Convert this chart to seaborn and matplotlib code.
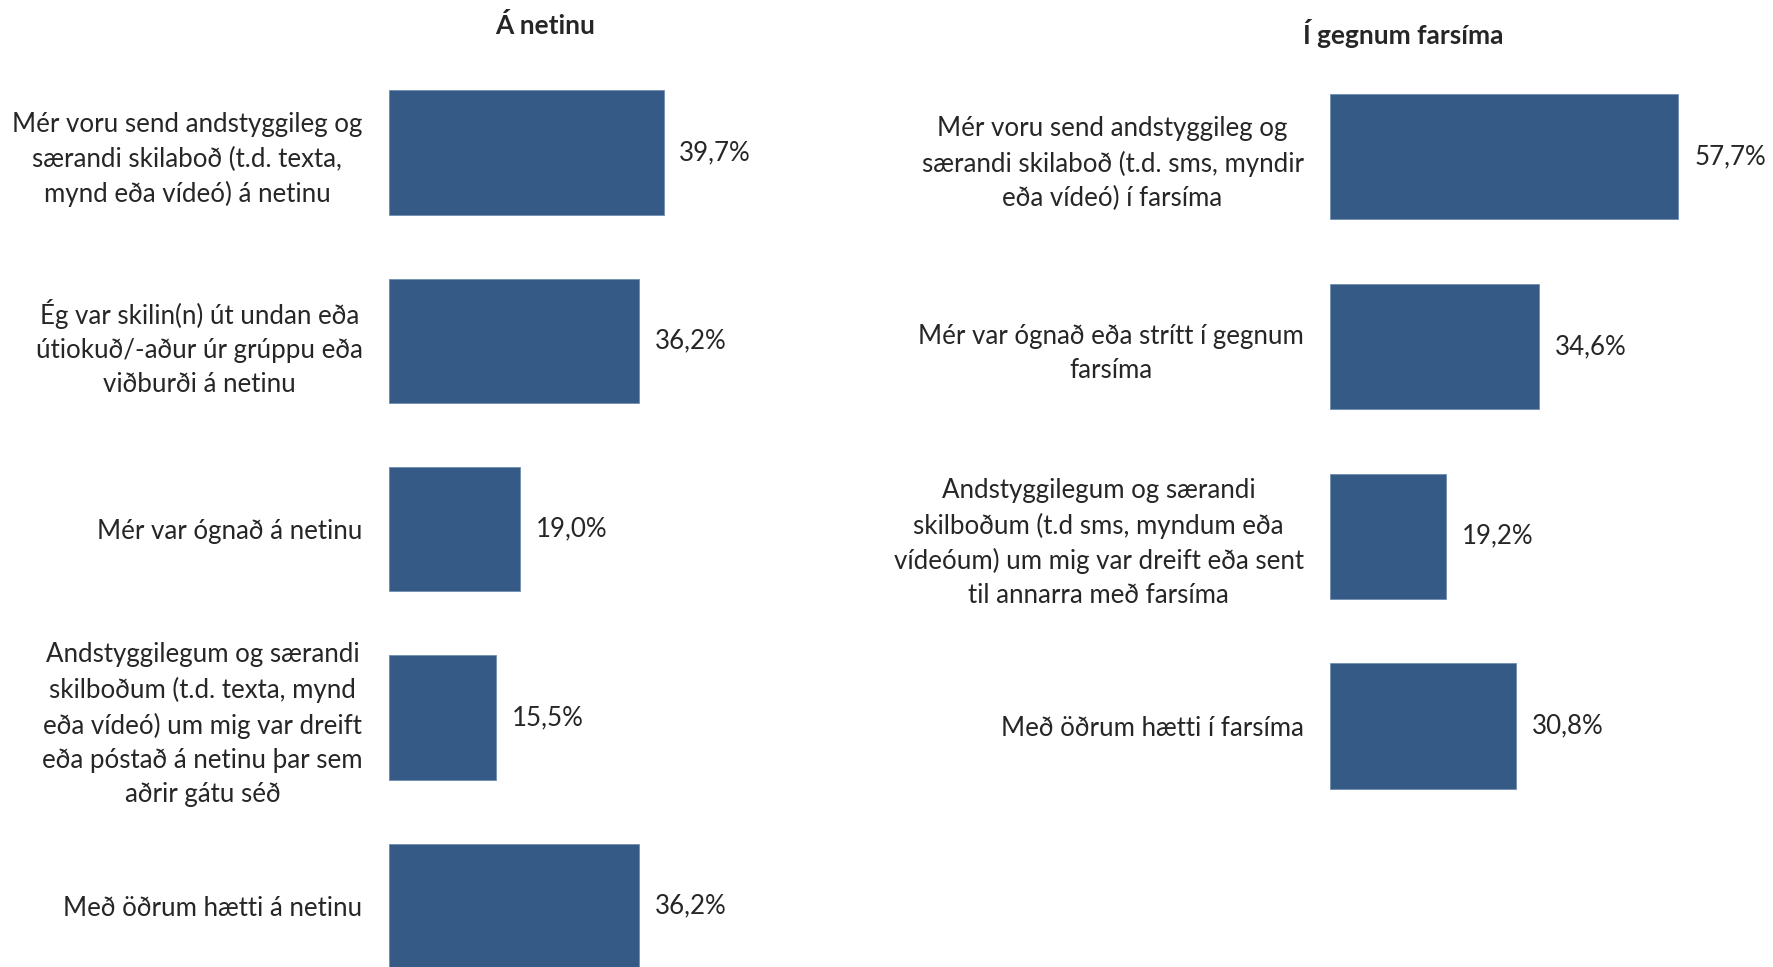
import pandas as pd
import matplotlib; matplotlib.use('Agg')
import matplotlib.pyplot as plt
import seaborn as sns

# ===== DATA =====
net_labels = [
    'Mér voru send andstyggileg og\nsærandi skilaboð (t.d. texta,\nmynd eða vídeó) á netinu',
    'Ég var skilin(n) út undan eða\nútiokuð/-aður úr grúppu eða\nviðburði á netinu',
    'Mér var ógnað á netinu',
    'Andstyggilegum og særandi\nskilboðum (t.d. texta, mynd\neða vídeó) um mig var dreift\neða póstað á netinu þar sem\naðrir gátu séð',
    'Með öðrum hætti á netinu',
]
net_values = [39.7, 36.2, 19.0, 15.5, 36.2]

phone_labels = [
    'Mér voru send andstyggileg og\nsærandi skilaboð (t.d. sms, myndir\neða vídeó) í farsíma',
    'Mér var ógnað eða strítt í gegnum\nfarsíma',
    'Andstyggilegum og særandi\nskilboðum (t.d sms, myndum eða\nvídeóum) um mig var dreift eða sent\ntil annarra með farsíma',
    'Með öðrum hætti í farsíma',
]
phone_values = [57.7, 34.6, 19.2, 30.8]

titles = ['Á netinu', 'Í gegnum farsíma']

BAR = '#355A86'
sns.set_style('white')
plt.rcParams['font.family'] = ['Lato', 'DejaVu Sans']
FS = 18.6

fig = plt.figure(figsize=(17.73, 9.67), dpi=100)
ax1 = fig.add_axes([0.2194, -0.034, 0.234, 0.9736])
ax2 = fig.add_axes([0.7501, 0.151, 0.2385, 0.7853])

panels = [(ax1, net_labels, net_values, 60), (ax2, phone_labels, phone_values, 70)]
for ax, labels, values, xmax in panels:
    df = pd.DataFrame({'label': labels, 'value': values})
    sns.barplot(data=df, x='value', y='label', orient='h', color=BAR, saturation=1,
                width=0.66, edgecolor='#6f8db3', linewidth=0.6, ax=ax)
    ax.set_xlim(0, xmax)
    ax.set_ylim(len(labels) - 0.5, -0.5)
    for i, v in enumerate(values):
        ax.text(v + xmax * 0.038, i, f'{v:.1f}%'.replace('.', ','), va='center', ha='left', fontsize=FS)
    ax.set_xlabel(''); ax.set_ylabel('')
    ax.set_xticks([])
    ax.tick_params(axis='y', length=0, pad=19, labelsize=FS)
    for t in ax.get_yticklabels():
        t.set_multialignment('center')
        t.set_linespacing(1.45)
    sns.despine(ax=ax, left=True, bottom=True)

fig.text(0.3074, 0.974, titles[0], ha='center', va='center', fontsize=19, fontweight='bold')
fig.text(0.7913, 0.965, titles[1], ha='center', va='center', fontsize=19, fontweight='bold')

plt.savefig('out.png', dpi=100)
